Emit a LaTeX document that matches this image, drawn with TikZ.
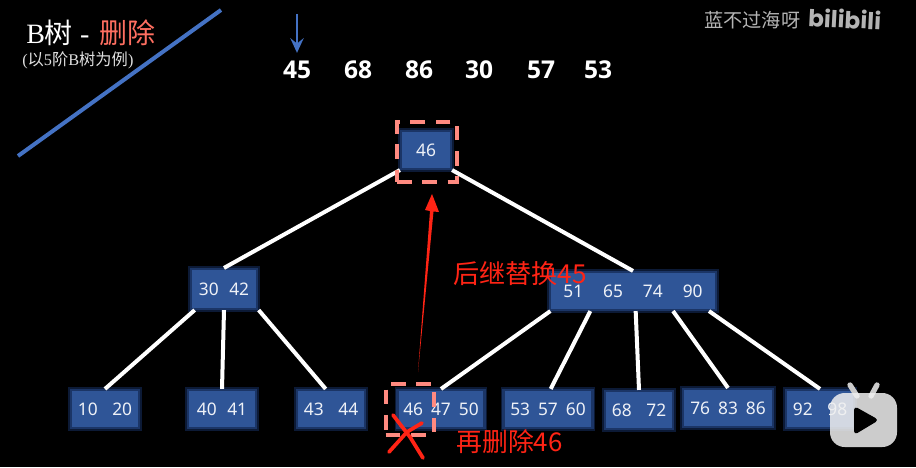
\documentclass[tikz,border=0pt]{standalone}
\usepackage{fontspec}
\usepackage{xcolor}
\usepackage{tikz}
\usetikzlibrary{calc, arrows.meta}
\setmainfont{Noto Sans}
\newfontfamily\cjkfont{Noto Sans CJK SC}
\newfontfamily\latinfont{Liberation Serif}
\newfontfamily\logofont{Poppins}
\newfontfamily\scanfont{Open Sans}
\definecolor{keyBlue}{HTML}{2F5597}
\definecolor{glowBlue}{HTML}{1B3566}
\definecolor{haloBlue}{HTML}{0C1A36}
\definecolor{lineBlue}{HTML}{4472C4}
\definecolor{dashRed}{HTML}{FF8A80}
\definecolor{noteRed}{HTML}{FF2415}
\definecolor{titleRed}{HTML}{FF6F61}
\definecolor{markGray}{HTML}{B4B4B4}
\tikzset{
    keybox/.style={draw=glowBlue, line width=1.6pt, fill=keyBlue, text=white!92!keyBlue, inner sep=0pt,
        preaction={draw=haloBlue, line width=4.4pt},
        font=\fontsize{13pt}{15pt}\selectfont},
    treeline/.style={draw=white, line width=3pt},
    dashbox/.style={draw=dashRed, line width=3pt, dash pattern=on 11pt off 8pt, inner sep=0pt},
    scankey/.style={text=white, inner sep=0pt, font=\scanfont\bfseries\fontsize{18.4pt}{20pt}\selectfont},
    notetext/.style={text=noteRed, inner sep=0pt, anchor=west, font=\cjkfont\fontsize{19.6pt}{22pt}\selectfont},
}
\begin{document}
\begin{tikzpicture}[x=0.75pt, y=-0.75pt]
    \fill[black] (0,0) rectangle (916,467);
    \useasboundingbox (0,0) rectangle (916,467);
    % title corner
    \coordinate (slashlow) at (18,156);
    \coordinate (slashhigh) at (221,10);
    \draw[lineBlue, line width=3pt] (slashlow) -- (slashhigh);
    \node[text=white, inner sep=0pt, anchor=west, font=\fontsize{21pt}{24pt}\selectfont] (titlenode) at (26,33)
        {{\latinfont B}{\cjkfont 树} {\latinfont -}\hspace{2pt} {\cjkfont\color{titleRed}删除}};
    \node[text=white!88!black, inner sep=0pt, anchor=west, font=\fontsize{12.2pt}{14pt}\selectfont] (subtitle) at (22,60)
        {{\latinfont (}{\cjkfont 以}{\latinfont 5}{\cjkfont 阶}{\latinfont B}{\cjkfont 树为例}{\latinfont )}};
    % keys to delete
    \foreach \x/\k in {297/45, 358/68, 419/86, 479/30, 541/57, 598/53}
        \node[scankey] (scan\k) at (\x,70) {\k};
    \coordinate (scanstart) at (297,14);
    \draw[lineBlue, line width=1.8pt, -{Stealth[length=11pt, width=10pt, inset=4pt]}]
        (scanstart) -- ([yshift=6pt]scan45.north);
    % the tree
    \foreach \nm/\x/\y/\w/\h/\g/\k in {
        root/426/150/50/38/0/46,
        nodel/224/289/66/40/8/30 42,
        noder/633/291/166/38/15/51 65 74 90,
        leafa/105/409/68/38/11/10 20,
        leafb/222/409/68/38/8/40 41,
        leafc/331/409/68/38/11/43 44,
        leafd/441/409/87/38/6/46 47 50,
        leafe/548/409/89/38/6/53 57 60,
        leaff/639/410/68/38/11/68 72,
        leafg/728/408/90/38/6/76 83 86,
        leafh/820/409/68/38/11/92 98}
        \node[keybox, minimum width=\w*0.75pt, minimum height=\h*0.75pt] (\nm) at (\x,\y) {\spaceskip=\g pt \k};
    \draw[treeline] (root.south west) -- (nodel.north);
    \draw[treeline] (root.south east) -- (noder.north);
    \draw[treeline] ([xshift=-22pt]nodel.south) -- (leafa.north);
    \draw[treeline] (nodel.south) -- (leafb.north);
    \draw[treeline] ([xshift=26pt]nodel.south) -- ([xshift=-4pt]leafc.north);
    \draw[treeline] ([xshift=-62pt]noder.south) -- (leafd.north);
    \draw[treeline] ([xshift=-32pt]noder.south) -- ([xshift=2pt]leafe.north);
    \draw[treeline] ([xshift=2pt]noder.south) -- (leaff.north);
    \draw[treeline] ([xshift=30pt]noder.south) -- (leafg.north);
    \draw[treeline] ([xshift=57pt]noder.south) -- (leafh.north);
    % dashed marks
    \node[dashbox, minimum width=45pt, minimum height=45pt] (rootmark) at (427,151.5) {};
    \node[dashbox, minimum width=36pt, minimum height=38pt] (leafmark) at (409.5,409.5) {};
    % successor arrow
    \coordinate (succtail) at (418,372);
    \coordinate (succtip) at (432,194);
    \fill[noteRed] (succtail) -- (430,211) -- (425,210) -- (succtip) -- (439,212) -- (433.5,211.5) -- cycle;
    \node[notetext] (succnote) at (453,274) {后继替换45};
    \node[notetext, font=\cjkfont\fontsize{19.4pt}{22pt}\selectfont] (delnote) at (456,442) {再删除46};
    % the red cross
    \draw[noteRed, line width=2.8pt, line cap=round] (389,452) -- (398,442) -- (407,432) -- (422,423);
    \draw[noteRed, line width=2.8pt, line cap=round] (393,415) -- (410,437) -- (423,458);
    % watermark
    \node[text=markGray, inner sep=0pt, anchor=west, font=\cjkfont\fontsize{14.4pt}{16pt}\selectfont] (upname) at (704,20) {蓝不过海呀};
    \node[text=markGray, inner sep=0pt, anchor=west, rotate=-3, font=\logofont\bfseries\fontsize{17.5pt}{20pt}\selectfont] (sitelogo) at (808,17) {bilibili};
    % player badge
    \coordinate (antl) at (850,385);
    \coordinate (antr) at (877,385);
    \draw[gray!40!white, line width=4pt, line cap=round] (antl) -- (857,396);
    \draw[gray!40!white, line width=4pt, line cap=round] (antr) -- (871,396);
    \fill[white!94!black, opacity=0.85, rounded corners=11pt] (830,393) rectangle (897,447);
    \fill[black, rounded corners=3pt] (854,406) -- (879,420) -- (854,435) -- cycle;
\end{tikzpicture}
\end{document}
